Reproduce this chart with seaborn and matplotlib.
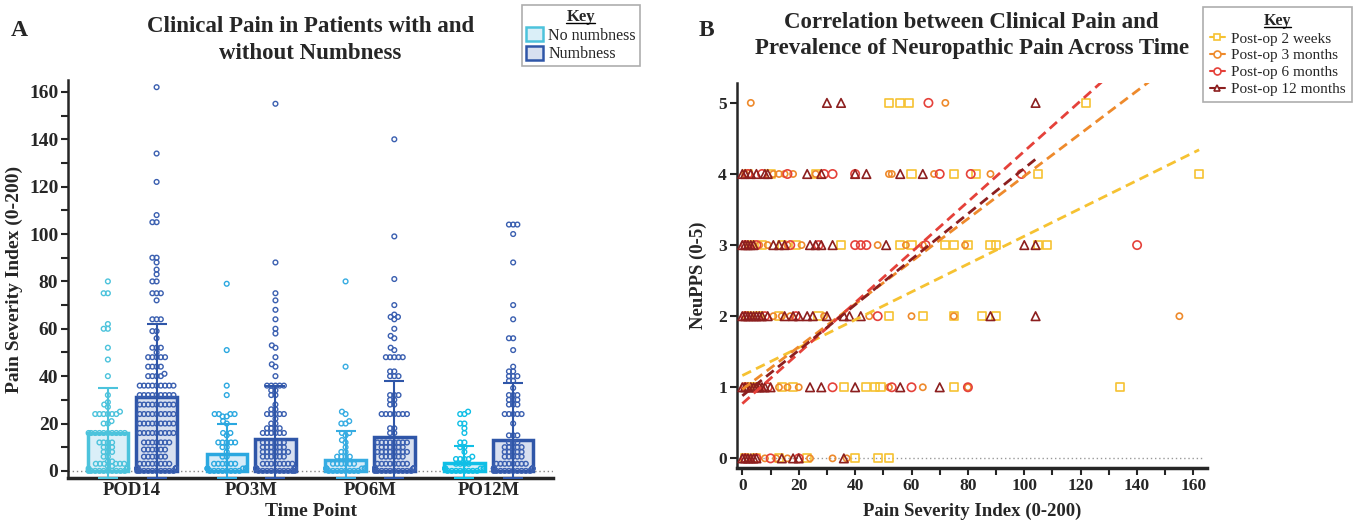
import numpy as np
import pandas as pd
import seaborn as sns
import matplotlib.pyplot as plt
from matplotlib.lines import Line2D
from matplotlib.patches import Patch
from matplotlib.ticker import MultipleLocator

sns.set_style("ticks")
plt.rcParams["font.family"] = ["Liberation Serif", "DejaVu Serif"]

# ---------------- panel A data ----------------
time_points = ["POD14", "PO3M", "PO6M", "PO12M"]
groups = ["No numbness", "Numbness"]

mean_no = [16, 7, 4.6, 3.2]
mean_numb = [31, 13.5, 14.5, 13]
err_top_no = [35, 20, 17, 10.5]
err_top_numb = [62, 36, 38, 37]

pod14_no = [80, 75, 75, 62, 60, 60, 52, 47, 40, 32, 29, 28, 27, 25, 24, 24, 24, 24, 24, 24,
            21, 20, 20, 16, 16, 16, 16, 16, 16, 16, 16, 16, 16, 12, 12, 12, 12, 10, 10, 10,
            8, 8, 8, 6, 6, 4, 4, 3, 3, 3, 3, 3, 3, 2, 2, 1, 1, 1,
            0, 0, 0, 0, 0, 0, 0, 0, 0, 0]
pod14_numb = [162, 134, 122, 108, 105, 105, 90, 90, 88, 85, 83, 80, 80, 75, 75, 75, 72,
              64, 64, 64, 59, 59, 56, 52, 52, 52, 50, 48, 48, 48, 48, 48, 44, 44, 44, 44,
              41, 40, 40, 40, 40, 36, 36, 36, 36, 36, 36, 36, 36, 36,
              32, 32, 32, 32, 32, 32, 32, 32, 32, 28, 28, 28, 28, 28, 28, 28, 28, 28,
              24, 24, 24, 24, 24, 24, 24, 24, 24, 20, 20, 20, 20, 20, 20, 20, 20, 20,
              16, 16, 16, 16, 16, 16, 16, 16, 16, 12, 12, 12, 12, 12, 12, 12,
              9, 9, 9, 9, 9, 9, 6, 6, 6, 6, 6, 6, 3, 3, 3, 3, 3, 3, 3, 3,
              1, 1, 1, 1, 1, 1, 1, 1, 1, 1, 0, 0, 0, 0, 0, 0, 0, 0, 0, 0]
po3m_no = [79, 51, 36, 32, 24, 24, 24, 24, 23, 23, 21, 20, 16, 16, 15, 12, 12, 12, 12, 12,
           10, 10, 8, 6, 6, 3, 3, 3, 3, 3, 3, 1, 1, 1, 1, 1, 1,
           0, 0, 0, 0, 0, 0, 0, 0]
po3m_numb = [155, 88, 75, 72, 68, 64, 60, 58, 53, 52, 48, 45, 44, 40, 36, 36, 36, 36, 36,
             34, 34, 32, 32, 28, 26, 26, 24, 24, 24, 24, 24, 22, 20, 20, 18, 18, 18, 18,
             16, 16, 16, 16, 16, 16, 12, 12, 12, 12, 12, 12, 10, 10, 10, 10, 10, 10,
             8, 8, 8, 8, 8, 8, 8, 6, 6, 6, 6, 6, 6, 3, 3, 3, 3, 3, 3, 3, 3,
             1, 1, 1, 1, 1, 1, 1, 1, 0, 0, 0, 0, 0, 0, 0, 0, 0, 0]
po6m_no = [80, 44, 25, 24, 21, 20, 20, 16, 16, 15, 13, 12, 10, 8, 8, 6, 6, 6, 6,
           3, 3, 3, 3, 3, 3, 1, 1, 1, 1, 1, 1, 1, 1, 0, 0, 0, 0, 0, 0, 0, 0]
po6m_numb = [140, 99, 81, 70, 66, 65, 65, 64, 60, 57, 56, 52, 51, 48, 48, 48, 48, 48,
             42, 42, 40, 40, 40, 32, 32, 32, 30, 30, 28, 28, 24, 24, 24, 24, 24, 24, 24,
             18, 18, 16, 16, 12, 12, 12, 12, 12, 12, 12, 12, 10, 10, 10, 10, 10, 10,
             8, 8, 8, 8, 8, 8, 8, 8, 6, 6, 6, 6, 6, 6, 3, 3, 3, 3, 3, 3, 3, 3,
             1, 1, 1, 1, 1, 1, 1, 1, 0, 0, 0, 0, 0, 0, 0, 0, 0, 0]
po12m_no = [25, 24, 24, 20, 20, 18, 16, 12, 12, 10, 10, 8, 6, 5, 5, 5, 5, 3, 3, 3, 3,
            1, 1, 1, 1, 1, 1, 0, 0, 0, 0, 0, 0, 0, 0]
po12m_numb = [104, 104, 104, 100, 88, 70, 64, 56, 56, 51, 44, 42, 42, 40, 40, 40, 38, 38,
              35, 32, 32, 32, 30, 30, 30, 28, 28, 28, 24, 24, 24, 24, 24, 20, 15, 15, 15,
              12, 12, 12, 10, 10, 10, 10, 10, 8, 8, 8, 8, 8, 6, 6, 6, 6, 6,
              3, 3, 3, 3, 3, 3, 3, 3, 1, 1, 1, 1, 1, 1, 1, 1,
              0, 0, 0, 0, 0, 0, 0, 0, 0, 0]

no_edge = ["#4CC3DC", "#2BA8E0", "#36ACE2", "#10BFE6"]
no_fill = ["#DAEFF8", "#D6EBF8", "#D8ECF8", "#D4EFF9"]
numb_edge = "#2F56A8"
numb_pts = "#3A5FB0"
numb_fill = "#D8E0F0"

# ---------------- panel B data ----------------
series = ["Post-op 2 weeks", "Post-op 3 months", "Post-op 6 months", "Post-op 12 months"]
w2_x = [52, 56, 59, 122, 2, 10, 26, 60, 75, 83, 105, 162,
        3, 7, 14, 19, 35, 56, 60, 72, 75, 80, 88, 90, 105, 108,
        2, 6, 13, 27, 52, 64, 75, 85, 90,
        2, 4, 14, 18, 36, 44, 47, 49, 75, 134, 1, 5, 13, 23, 40, 48, 52]
w2_y = [5, 5, 5, 5, 4, 4, 4, 4, 4, 4, 4, 4,
        3, 3, 3, 3, 3, 3, 3, 3, 3, 3, 3, 3, 3, 3,
        2, 2, 2, 2, 2, 2, 2, 2, 2,
        1, 1, 1, 1, 1, 1, 1, 1, 1, 1, 0, 0, 0, 0, 0, 0, 0]
m3_x = [3, 72, 1, 11, 13, 15, 18, 26, 52, 53, 68, 88,
        2, 6, 9, 16, 21, 48, 58, 64, 79,
        3, 11, 14, 17, 29, 45, 60, 75, 155,
        3, 6, 13, 16, 20, 52, 64, 80, 2, 8, 12, 16, 24, 32, 37]
m3_y = [5, 5, 4, 4, 4, 4, 4, 4, 4, 4, 4, 4,
        3, 3, 3, 3, 3, 3, 3, 3, 3,
        2, 2, 2, 2, 2, 2, 2, 2, 2,
        1, 1, 1, 1, 1, 1, 1, 1, 0, 0, 0, 0, 0, 0, 0]
m6_x = [66, 2, 7, 16, 29, 32, 40, 70, 81, 99,
        1, 5, 17, 27, 40, 42, 44, 65, 140,
        1, 8, 19, 48, 1, 9, 32, 53, 60, 80, 1, 5, 10, 20]
m6_y = [5, 4, 4, 4, 4, 4, 4, 4, 4, 4,
        3, 3, 3, 3, 3, 3, 3, 3, 3,
        2, 2, 2, 2, 1, 1, 1, 1, 1, 1, 0, 0, 0, 0]
m12_x = [30, 35, 104, 0, 1, 3, 5, 8, 9, 23, 28, 40, 44, 56, 64,
         0, 1, 2, 3, 4, 11, 13, 15, 24, 26, 28, 32, 51, 100, 104,
         0, 1, 2, 3, 4, 5, 6, 7, 9, 15, 18, 20, 23, 25, 30, 36, 38, 42, 88, 104,
         0, 1, 2, 3, 4, 5, 6, 7, 8, 10, 24, 28, 40, 56, 70,
         0, 1, 2, 3, 4, 5, 14, 18, 20, 36]
m12_y = [5, 5, 5, 4, 4, 4, 4, 4, 4, 4, 4, 4, 4, 4, 4,
         3, 3, 3, 3, 3, 3, 3, 3, 3, 3, 3, 3, 3, 3, 3,
         2, 2, 2, 2, 2, 2, 2, 2, 2, 2, 2, 2, 2, 2, 2, 2, 2, 2, 2, 2,
         1, 1, 1, 1, 1, 1, 1, 1, 1, 1, 1, 1, 1, 1, 1,
         0, 0, 0, 0, 0, 0, 0, 0, 0, 0]
# linear fits
fit_intercept = [1.165, 0.97, 0.77, 0.88]
fit_slope = [0.0196, 0.0300, 0.0355, 0.0320]

ser_colors = ["#F6C232", "#EE8A2C", "#E5413A", "#8C1F1F"]
ser_markers = ["s", "o", "o", "^"]
ser_sizes = [34, 20, 36, 38]

# ---------------- figure ----------------
fig = plt.figure(figsize=(13.64, 5.2), dpi=100)
axA = fig.add_axes([0.0499, 0.0808, 0.3555, 0.7652])
axB = fig.add_axes([0.5401, 0.0994, 0.3446, 0.7410])

# ---- panel A ----
bars = pd.DataFrame({
    "time": time_points * 2,
    "group": [groups[0]] * 4 + [groups[1]] * 4,
    "mean": mean_no + mean_numb,
})
sns.barplot(data=bars, x="time", y="mean", hue="group", order=time_points,
            hue_order=groups, palette=[no_fill[0], numb_fill], width=0.82, gap=0.17,
            linewidth=2.5, legend=False, ax=axA, zorder=1)

bar_conts = list(axA.containers)
for h, cont in enumerate(bar_conts):
    for p in cont.patches:
        xc = p.get_x() + p.get_width() / 2
        i = int(round(xc))
        if h == 0:
            p.set_facecolor(no_fill[i]); p.set_edgecolor(no_edge[i])
            m, top, c = mean_no[i], err_top_no[i], no_edge[i]
        else:
            p.set_facecolor(numb_fill); p.set_edgecolor(numb_edge)
            m, top, c = mean_numb[i], err_top_numb[i], numb_edge
        axA.errorbar(xc, m, yerr=[[m + 3], [top - m]], fmt="none", ecolor=c,
                     elinewidth=1.5, capsize=7, capthick=1.5, zorder=4)

pts = pd.DataFrame({
    "time": (["POD14"] * (len(pod14_no) + len(pod14_numb))
             + ["PO3M"] * (len(po3m_no) + len(po3m_numb))
             + ["PO6M"] * (len(po6m_no) + len(po6m_numb))
             + ["PO12M"] * (len(po12m_no) + len(po12m_numb))),
    "group": ([groups[0]] * len(pod14_no) + [groups[1]] * len(pod14_numb)
              + [groups[0]] * len(po3m_no) + [groups[1]] * len(po3m_numb)
              + [groups[0]] * len(po6m_no) + [groups[1]] * len(po6m_numb)
              + [groups[0]] * len(po12m_no) + [groups[1]] * len(po12m_numb)),
    "value": pod14_no + pod14_numb + po3m_no + po3m_numb + po6m_no + po6m_numb
             + po12m_no + po12m_numb,
})
n_before = len(axA.collections)
sns.swarmplot(data=pts, x="time", y="value", hue="group", order=time_points,
              hue_order=groups, palette=[no_edge[0], numb_pts], dodge=True,
              size=3.4, legend=False, ax=axA, zorder=3)
swarm_colls = [c for c in axA.collections[n_before:] if len(c.get_offsets())]

axA.axhline(0, color="#888888", lw=1, ls=(0, (1, 2)), zorder=0)
axA.set_xlim(-0.54, 3.54)
axA.set_ylim(-3, 165)
axA.yaxis.set_major_locator(MultipleLocator(20))
axA.yaxis.set_minor_locator(MultipleLocator(10))
axA.tick_params(axis="y", which="both", length=5, width=1.5, labelsize=14, pad=2)
axA.tick_params(axis="x", length=0, labelsize=13.5, pad=3)
for lab in axA.get_xticklabels() + axA.get_yticklabels():
    lab.set_fontweight("bold")
axA.spines["left"].set_linewidth(1.8)
axA.spines["bottom"].set_linewidth(2.5)
sns.despine(ax=axA)
axA.set_xlabel("Time Point", fontsize=14, fontweight="bold", labelpad=3)
axA.set_ylabel("Pain Severity Index (0-200)", fontsize=14, fontweight="bold", labelpad=4)
axA.set_title("Clinical Pain in Patients with and\nwithout Numbness", fontsize=16.5,
              fontweight="bold", pad=15, linespacing=1.38)

legA = axA.legend(handles=[Patch(facecolor=no_fill[0], edgecolor=no_edge[0], lw=1.8),
                           Patch(facecolor=numb_fill, edgecolor=numb_edge, lw=1.8)],
                  labels=groups, title="Key", loc="upper right",
                  bbox_to_anchor=(0.469, 0.99), bbox_transform=fig.transFigure,
                  fontsize=11.5, title_fontproperties={"weight": "bold", "size": 12},
                  frameon=True, fancybox=False,
                  handlelength=1.1, handleheight=1.0, handletextpad=0.3,
                  borderpad=0.25, labelspacing=0.12, borderaxespad=0)
legA.get_frame().set_edgecolor("#999999")
legA.get_frame().set_linewidth(1.2)

# ---- panel B ----
for k, (xs, ys) in enumerate([(w2_x, w2_y), (m3_x, m3_y), (m6_x, m6_y), (m12_x, m12_y)]):
    sns.scatterplot(x=xs, y=ys, color=ser_colors[k], marker=ser_markers[k], s=ser_sizes[k],
                    ax=axB, zorder=3)
    coll = axB.collections[-1]
    coll.set_edgecolor(ser_colors[k])
    coll.set_facecolor("none")
    coll.set_linewidth(1.2)

for k, xs in enumerate([w2_x, m3_x, m6_x, m12_x]):
    xl = np.array([0, max(xs)])
    axB.plot(xl, fit_intercept[k] + fit_slope[k] * xl, color=ser_colors[k], lw=2,
             ls=(0, (3.5, 2)), zorder=4)

axB.hlines(0, 0, 163, color="#999999", lw=1, ls=(0, (1, 2)), zorder=0)
axB.set_xlim(-2, 164.7)
axB.set_ylim(-0.14, 5.28)
axB.xaxis.set_major_locator(MultipleLocator(20))
axB.xaxis.set_minor_locator(MultipleLocator(10))
axB.yaxis.set_major_locator(MultipleLocator(1))
axB.tick_params(axis="both", which="both", length=5, width=1.5, labelsize=12.5, pad=2)
for lab in axB.get_xticklabels() + axB.get_yticklabels():
    lab.set_fontweight("bold")
axB.spines["left"].set_linewidth(1.8)
axB.spines["bottom"].set_linewidth(2.5)
sns.despine(ax=axB)
axB.set_xlabel("Pain Severity Index (0-200)", fontsize=13.5, fontweight="bold", labelpad=6)
axB.set_ylabel("NeuPPS (0-5)", fontsize=13.5, fontweight="bold", labelpad=8)
axB.set_title("Correlation between Clinical Pain and\nPrevalence of Neuropathic Pain Across Time",
              fontsize=16.5, fontweight="bold", pad=21, linespacing=1.32)

handlesB = [Line2D([], [], color=ser_colors[k], marker=ser_markers[k], markersize=5,
                   markerfacecolor="white", markeredgewidth=1.2, lw=1.5)
            for k in range(4)]
legB = axB.legend(handles=handlesB, labels=series, title="Key",
                  loc="upper right", bbox_to_anchor=(0.991, 0.987),
                  bbox_transform=fig.transFigure, fontsize=11,
                  title_fontproperties={"weight": "bold", "size": 11.5},
                  frameon=True, fancybox=False, handlelength=1.0, handletextpad=0.4,
                  borderpad=0.4, labelspacing=0.2, borderaxespad=0)
legB.get_frame().set_edgecolor("#999999")
legB.get_frame().set_linewidth(1.2)

fig.text(0.008, 0.93, "A", fontsize=17, fontweight="bold")
fig.text(0.512, 0.93, "B", fontsize=17, fontweight="bold")

# lay out the swarms, then narrow them to the bar width and recolour them hollow
fig.canvas.draw()
for coll in swarm_colls:
    offs = coll.get_offsets().copy()
    cx = np.median(offs[:, 0])
    i = int(round(cx))
    side = 0 if cx < i else 1
    old_c = i - 0.2 if side == 0 else i + 0.2
    new_c = i - 0.205 if side == 0 else i + 0.205
    offs[:, 0] = np.clip(new_c + (offs[:, 0] - old_c) * 0.85, new_c - 0.162, new_c + 0.162)
    if "draw" in coll.__dict__:
        del coll.draw
    coll.set_offsets(offs)
    col = no_edge[i] if side == 0 else numb_pts
    coll.set_edgecolor(col)
    coll.set_facecolor("none")
    coll.set_linewidth(1.0)

# underline the legend titles
W, H = fig.bbox.width, fig.bbox.height
for leg in (legA, legB):
    bb = leg.get_title().get_window_extent()
    fig.add_artist(Line2D([bb.x0 / W, bb.x1 / W], [(bb.y0 + 2) / H] * 2,
                          transform=fig.transFigure, color="black", lw=1))

fig.savefig("out.png", dpi=100)
